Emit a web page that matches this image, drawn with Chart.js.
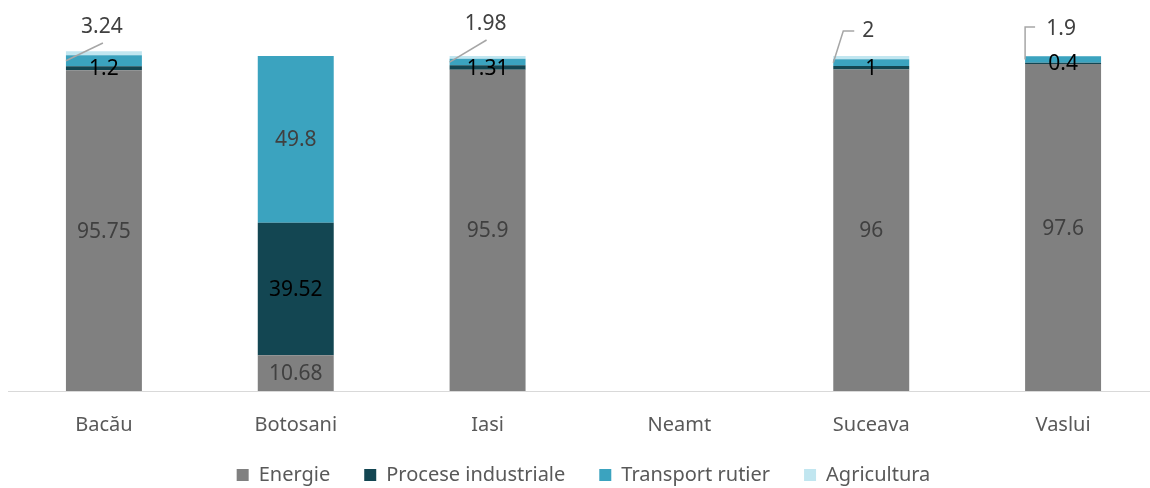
<!DOCTYPE html>
<html>
<head>
<meta charset="utf-8">
<script src="https://cdn.jsdelivr.net/npm/chart.js@4/dist/chart.umd.min.js"></script>
<style>
  html, body { margin: 0; padding: 0; background: #fff; overflow: hidden; }
  #wrap { width: 1159px; height: 488px; }
</style>
</head>
<body>
<div id="wrap"><canvas id="emisii"></canvas></div>
<script>
const judete = ['Bacău', 'Botoșani', 'Iași', 'Neamț', 'Suceava', 'Vaslui'];
const energie = [95.75, 10.68, 95.9, null, 96, 97.6];
const procese = [1.2, 39.52, 1.31, null, 1, 0.4];
const transport = [3.24, 49.8, 1.98, null, 2, 1.9];
const agricultura = [1.2, 0, 0.8, null, 1, 0.1];

const FONT = '"Noto Sans", "Open Sans", sans-serif';

// etichete mici scoase deasupra barei, cu linie de legatura
const leaders = {
    0: { type: 'diag', dy: -29 },
    2: { type: 'diag', dy: -32 },
    4: { type: 'elbow', dy: -25 },
    5: { type: 'vert', dy: -27 }
};

const valueLabels = {
    id: 'valueLabels',
    afterDatasetsDraw(chart) {
        const ctx = chart.ctx;
        const yTop = chart.scales.y.getPixelForValue(100);
        ctx.save();
        ctx.font = '21px ' + FONT;
        ctx.textAlign = 'center';
        ctx.textBaseline = 'middle';
        chart.data.datasets.forEach((ds, di) => {
            if (!ds.labelColor) return;
            const meta = chart.getDatasetMeta(di);
            meta.data.forEach((el, i) => {
                const v = ds.data[i];
                if (v === null || v === 0) return;
                const txt = String(v);
                const ld = leaders[i];
                if (di === 2 && ld) {
                    const left = el.x - el.width / 2;
                    const midY = (el.y + el.base) / 2;
                    const ly = yTop + ld.dy;
                    const tw = ctx.measureText(txt).width;
                    let tx = el.x - 2;
                    ctx.strokeStyle = '#a6a6a6';
                    ctx.lineWidth = 1.5;
                    ctx.beginPath();
                    ctx.moveTo(left, midY);
                    if (ld.type === 'diag') {
                        ctx.lineTo(el.x - 1, ly + 16);
                    } else if (ld.type === 'elbow') {
                        tx = el.x - 3;
                        ctx.lineTo(left + 10, ly);
                        ctx.lineTo(tx - tw / 2 - 8, ly);
                    } else {
                        ctx.lineTo(left, ly - 2);
                        ctx.lineTo(left + 10, ly - 2);
                    }
                    ctx.stroke();
                    ctx.fillStyle = ds.labelColor;
                    ctx.fillText(txt, tx, ly);
                    return;
                }
                ctx.fillStyle = ds.labelColor;
                ctx.fillText(txt, el.x, (el.y + el.base) / 2 + 1);
            });
        });
        ctx.restore();
    }
};

const legendFit = {
    id: 'legendFit',
    beforeInit(chart) {
        const fit = chart.legend.fit;
        chart.legend.fit = function () {
            fit.call(this);
            this.height = 57;
        };
    }
};

new Chart(document.getElementById('emisii'), {
    type: 'bar',
    data: {
        labels: judete,
        datasets: [
            { label: 'Energie', data: energie, backgroundColor: '#808080', labelColor: '#404040' },
            { label: 'Procese industriale', data: procese, backgroundColor: '#134652', labelColor: '#000000' },
            { label: 'Transport rutier', data: transport, backgroundColor: '#3ba3bf', labelColor: '#404040' },
            { label: 'Agricultura', data: agricultura, backgroundColor: '#c1e6f0' }
        ]
    },
    options: {
        responsive: true,
        maintainAspectRatio: false,
        animation: false,
        layout: { padding: { top: 56, left: 8, right: 0, bottom: 0 } },
        datasets: { bar: { categoryPercentage: 0.8, barPercentage: 0.495, clip: false, borderWidth: 0 } },
        scales: {
            x: {
                stacked: true,
                grid: { display: false },
                border: { color: '#d9d9d9', width: 1 },
                ticks: { color: '#595959', font: { family: FONT, size: 20 }, padding: 14 },
                afterFit(scale) { scale.height = 40; }
            },
            y: {
                stacked: true,
                display: false,
                min: 0,
                max: 100
            }
        },
        plugins: {
            legend: {
                position: 'bottom',
                labels: {
                    boxWidth: 12,
                    boxHeight: 12,
                    padding: 34,
                    color: '#595959',
                    font: { family: FONT, size: 20 }
                }
            },
            tooltip: { enabled: false }
        }
    },
    plugins: [valueLabels, legendFit]
});
</script>
</body>
</html>
